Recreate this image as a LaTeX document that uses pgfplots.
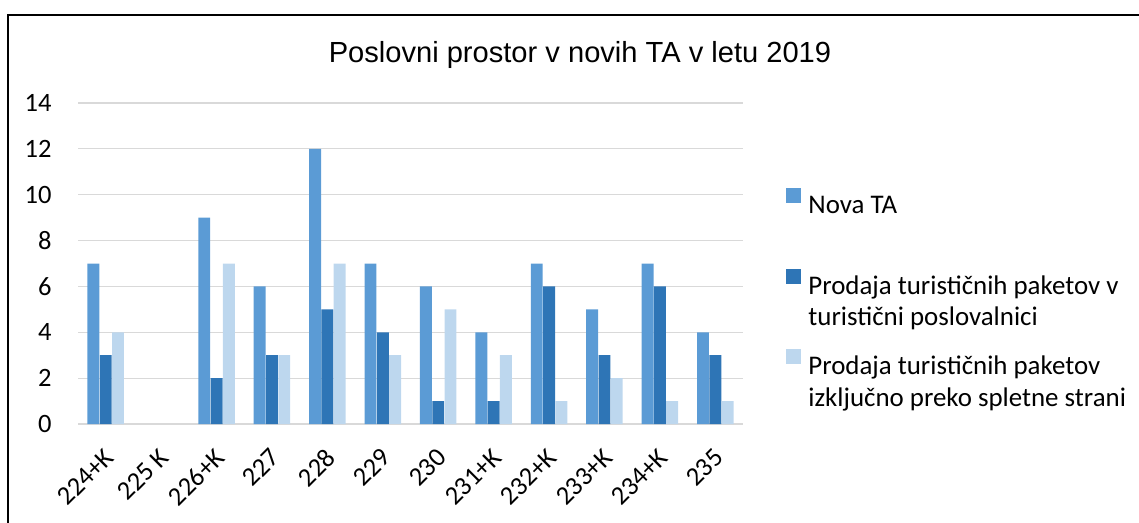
\documentclass[border=0pt]{standalone}
\usepackage{fontspec}
\setmainfont{Carlito}
\newfontfamily\arialfont{Liberation Sans}
\usepackage{pgfplots}
\pgfplotsset{compat=1.18}
\definecolor{cA}{HTML}{5B9BD5}
\definecolor{cB}{HTML}{2E75B6}
\definecolor{cC}{HTML}{BDD7EE}
\definecolor{gridc}{HTML}{D9D9D9}
\pgfplotsset{sqlegend/.style={legend image code/.code={\fill[##1] (0bp,0.5bp) rectangle (7.5bp,8bp);}}}
\begin{document}
\begin{tikzpicture}
\useasboundingbox (-39bp,-49.5bp) rectangle (530.5bp,212bp);
\begin{axis}[
  at={(0,0)}, anchor=south west,
  scale only axis, width=332.5bp, height=160.5bp,
  ybar, xmin=-0.5, xmax=11.5, ymin=0, ymax=14,
  ytick={0,2,...,14},
  xtick={0,...,11},
  xticklabels={224+K,225 K,226+K,227,228,229,230,231+K,232+K,233+K,234+K,235},
  axis x line*=bottom, axis y line*=left,
  x axis line style={draw=gridc, line width=1bp, -},
  y axis line style={draw=none},
  major tick length=0pt, tick style={draw=none},
  ymajorgrids, grid style={draw=gridc, line width=0.6bp},
  /pgf/number format/assume math mode=true,
  ticklabel style={font=\fontsize{13.3}{15}\selectfont},
  yticklabel style={anchor=east, inner sep=0pt, xshift=-13bp},
  xticklabel style={inner sep=0pt, xshift=1.8bp, yshift=-14.5bp, rotate=45, anchor=east},
  legend style={at={(1.0647,0.735)}, anchor=north west, draw=none, fill=none,
     inner sep=0pt, column sep=3.5bp, row sep=26bp,
     font=\fontsize{13.5}{15.7}\selectfont, nodes={inner sep=0pt}},
  legend cell align=left,
]
\addplot[fill=cA, draw=none, bar width=0.215, bar shift=-0.222, sqlegend]
  coordinates {(0,7) (2,9) (3,6) (4,12) (5,7) (6,6) (7,4) (8,7) (9,5) (10,7) (11,4)};
\addlegendentry{\begin{tabular}[t]{@{}l@{}}Nova TA\\ \mbox{}\end{tabular}}
\addplot[fill=cB, draw=none, bar width=0.215, bar shift=0, sqlegend]
  coordinates {(0,3) (2,2) (3,3) (4,5) (5,4) (6,1) (7,1) (8,6) (9,3) (10,6) (11,3)};
\addlegendentry{\begin{tabular}[t]{@{}l@{}}Prodaja turističnih paketov v\\turistični poslovalnici\end{tabular}}
\addplot[fill=cC, draw=none, bar width=0.215, bar shift=0.222, sqlegend]
  coordinates {(0,4) (2,7) (3,3) (4,7) (5,3) (6,5) (7,3) (8,1) (9,2) (10,1) (11,1)};
\addlegendentry{\begin{tabular}[t]{@{}l@{}}Prodaja turističnih paketov\\izključno preko spletne strani\end{tabular}}
\end{axis}
\node[font=\arialfont\fontsize{14.6}{17}\selectfont, anchor=base, inner sep=0pt] at (251bp,180.5bp) {Poslovni prostor v novih TA v letu 2019};
\draw[line width=1bp] (-34.85bp,-60bp) -- (-34.85bp,204.35bp) -- (540bp,204.35bp) -- (540bp,-60bp);
\end{tikzpicture}
\end{document}
